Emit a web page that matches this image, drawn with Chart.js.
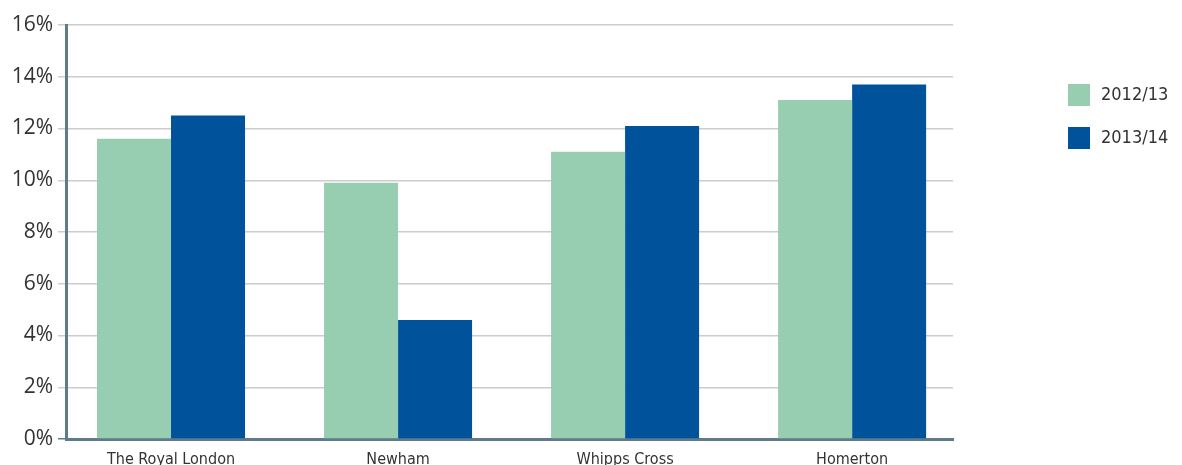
<!DOCTYPE html>
<html>
<head>
<meta charset="utf-8">
<script src="https://cdn.jsdelivr.net/npm/chart.js@4/dist/chart.umd.min.js"></script>
<style>
  html, body { margin: 0; padding: 0; background: #fff; }
  #wrap { width: 1182px; height: 465px; }
</style>
</head>
<body>
<div id="wrap"><canvas id="chart1"></canvas></div>
<script>
// hospitals
const categories = ['The Royal London', 'Newham', 'Whipps Cross', 'Homerton'];
const seriesNames = ['2012/13', '2013/14'];
const values1213 = [11.6, 9.9, 11.1, 13.1];
const values1314 = [12.5, 4.6, 12.1, 13.7];
const yTicks = [0, 2, 4, 6, 8, 10, 12, 14, 16];

const green = '#97cdb0';
const blue = '#00529b';
const slate = '#5e7b8b';
const narrow = "'Liberation Sans Narrow', 'DejaVu Sans Condensed', sans-serif";

// legend drawn on the right, like the original
const sideLegend = {
  id: 'sideLegend',
  afterDraw(chart) {
    const ctx = chart.ctx;
    ctx.save();
    ctx.font = '18px ' + narrow;
    ctx.textBaseline = 'middle';
    chart.data.datasets.forEach((ds, i) => {
      const y = 84 + i * 43;
      ctx.fillStyle = ds.backgroundColor;
      ctx.fillRect(1068, y, 22, 22);
      ctx.fillStyle = '#333';
      ctx.fillText(ds.label, 1101, y + 11);
    });
    ctx.restore();
  }
};

new Chart(document.getElementById('chart1'), {
  type: 'bar',
  data: {
    labels: categories,
    datasets: [
      { label: seriesNames[0], data: values1213, backgroundColor: green },
      { label: seriesNames[1], data: values1314, backgroundColor: blue }
    ]
  },
  options: {
    responsive: true,
    maintainAspectRatio: false,
    animation: false,
    layout: { padding: { top: 25, right: 229, left: 0, bottom: 0 } },
    datasets: { bar: { categoryPercentage: 0.652, barPercentage: 1 } },
    plugins: { legend: { display: false }, tooltip: { enabled: false } },
    scales: {
      x: {
        offset: false,
        afterBuildTicks(s) { s._startValue = -0.4626; s._valueRange = 3.907; },
        afterFit(s) { s.height = 26; },
        grid: { display: false, drawTicks: false },
        border: { display: true, color: slate, width: 3 },
        ticks: { color: '#333', font: { family: narrow, size: 16 }, padding: 11, maxRotation: 0 }
      },
      y: {
        min: 0,
        max: 16,
        afterBuildTicks(s) { s.ticks = yTicks.map(v => ({ value: v })); },
        afterFit(s) { s.width = 66; },
        grid: {
          color: c => (c.tick && c.tick.value === 0 ? slate : '#cccccc'),
          lineWidth: 1.5,
          tickLength: 8
        },
        border: { display: true, color: slate, width: 3 },
        ticks: {
          color: '#333',
          font: { family: "'Open Sans', sans-serif", size: 21 },
          padding: 5,
          callback: v => v + '%'
        }
      }
    }
  },
  plugins: [sideLegend]
});
</script>
</body>
</html>
